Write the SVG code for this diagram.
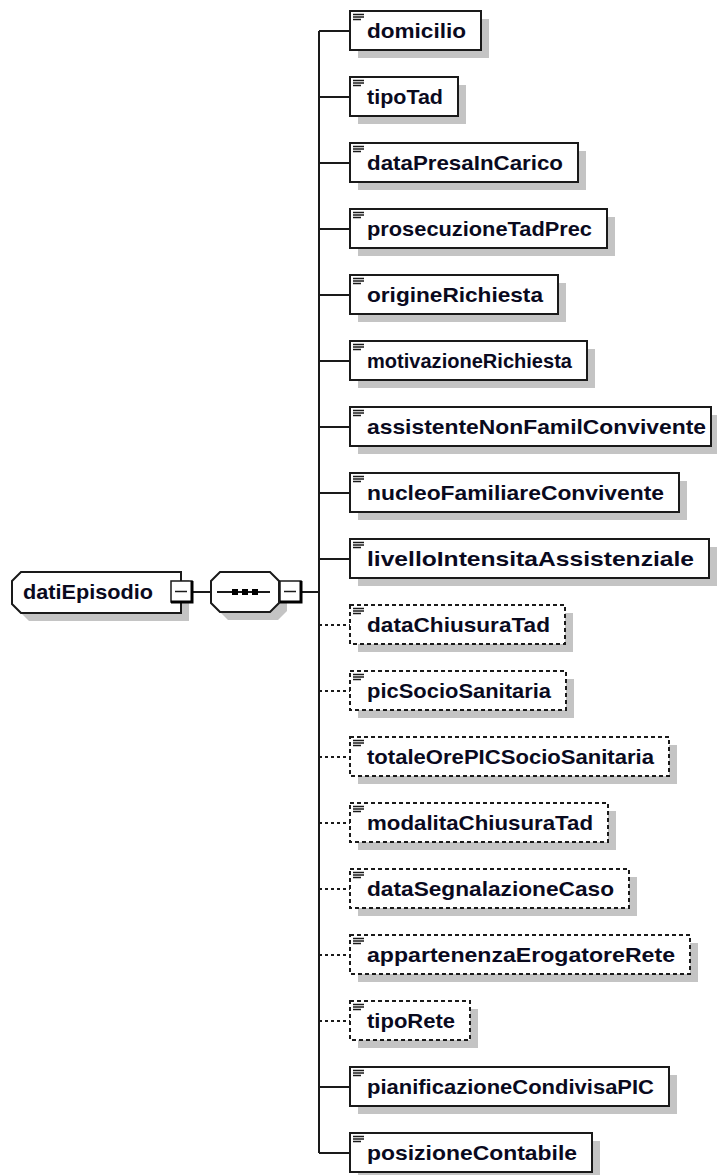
<svg xmlns="http://www.w3.org/2000/svg" width="717" height="1175" viewBox="0 0 717 1175">
<style>
.bg{fill:#fff}
.sh{fill:#c4c4c4;stroke:none}
.box{fill:#fff;stroke:#1a1a1a;stroke-width:2}
.opt{stroke-dasharray:4,3}
.ln{stroke:#1a1a1a;stroke-width:2;fill:none}
.dl{stroke:#1a1a1a;stroke-width:2;fill:none;stroke-dasharray:3,3}
.ic{stroke:#1a1a1a;stroke-width:1.5}
.t{font-family:"Liberation Sans",Arial,sans-serif;font-weight:bold;font-size:20.5px;fill:#0a0a1e}
.mb{fill:#fff;stroke:#1a1a1a;stroke-width:1.5}
.mbd{stroke:#000;stroke-width:3;fill:none}
</style>
<defs>
<g id="icon"><line class="ic" x1="353" y1="-16.5" x2="364" y2="-16.5"/><line class="ic" x1="353" y1="-14" x2="364" y2="-14"/><line class="ic" x1="353" y1="-11.5" x2="361" y2="-11.5"/></g>
</defs>
<rect class="bg" x="0" y="0" width="717" height="1175"/>

<g id="connectors">
<line class="ln" x1="192" y1="592" x2="211" y2="592"/>
<line class="ln" x1="301" y1="592" x2="319" y2="592"/>
<line class="ln" x1="319" y1="31" x2="319" y2="1153"/>
<line class="ln" x1="319" y1="31" x2="350" y2="31"/>
<line class="ln" x1="319" y1="97" x2="350" y2="97"/>
<line class="ln" x1="319" y1="163" x2="350" y2="163"/>
<line class="ln" x1="319" y1="229" x2="350" y2="229"/>
<line class="ln" x1="319" y1="295" x2="350" y2="295"/>
<line class="ln" x1="319" y1="361" x2="350" y2="361"/>
<line class="ln" x1="319" y1="427" x2="350" y2="427"/>
<line class="ln" x1="319" y1="493" x2="350" y2="493"/>
<line class="ln" x1="319" y1="559" x2="350" y2="559"/>
<line class="dl" x1="319" y1="625" x2="350" y2="625"/>
<line class="dl" x1="319" y1="691" x2="350" y2="691"/>
<line class="dl" x1="319" y1="757" x2="350" y2="757"/>
<line class="dl" x1="319" y1="823" x2="350" y2="823"/>
<line class="dl" x1="319" y1="889" x2="350" y2="889"/>
<line class="dl" x1="319" y1="955" x2="350" y2="955"/>
<line class="dl" x1="319" y1="1021" x2="350" y2="1021"/>
<line class="ln" x1="319" y1="1087" x2="350" y2="1087"/>
<line class="ln" x1="319" y1="1153" x2="350" y2="1153"/>
</g>

<g id="datiEpisodio">
<path class="sh" d="M20,589 L29,580 L189,580 L189,621 L29,621 L20,612 Z"/>
<path class="box" d="M12,581 L21,572 L181,572 L181,613 L21,613 L12,604 Z"/>
<text class="t" x="23" y="599" textLength="130" lengthAdjust="spacingAndGlyphs">datiEpisodio</text>
<rect class="mb" x="171" y="581" width="21" height="21"/>
<path class="mbd" d="M192,581 L192,602 L171,602"/>
<line class="ic" x1="175" y1="591.5" x2="187" y2="591.5"/>
</g>

<g id="sequence">
<path class="sh" d="M219,589 L228,580 L278,580 L287,589 L287,611 L278,620 L228,620 L219,611 Z"/>
<path class="box" d="M211,581 L220,572 L270,572 L279,581 L279,603 L270,612 L220,612 L211,603 Z"/>
<line class="ln" x1="217" y1="592" x2="270" y2="592"/>
<rect x="232" y="589" width="6" height="6" fill="#000"/>
<rect x="242" y="589" width="6" height="6" fill="#000"/>
<rect x="252" y="589" width="6" height="6" fill="#000"/>
<rect class="mb" x="280" y="581" width="21" height="21"/>
<path class="mbd" d="M301,581 L301,602 L280,602"/>
<line class="ic" x1="284" y1="591.5" x2="296" y2="591.5"/>
</g>

<g id="domicilio" transform="translate(0,31)">
<rect class="sh" x="358" y="-12" width="131" height="39"/>
<rect class="box" x="350" y="-20" width="131" height="39"/>
<use href="#icon"/>
<text class="t" x="367" y="7" textLength="99" lengthAdjust="spacingAndGlyphs">domicilio</text>
</g>
<g id="tipoTad" transform="translate(0,97)">
<rect class="sh" x="358" y="-12" width="108" height="39"/>
<rect class="box" x="350" y="-20" width="108" height="39"/>
<use href="#icon"/>
<text class="t" x="367" y="7" textLength="76" lengthAdjust="spacingAndGlyphs">tipoTad</text>
</g>
<g id="dataPresaInCarico" transform="translate(0,163)">
<rect class="sh" x="358" y="-12" width="228" height="39"/>
<rect class="box" x="350" y="-20" width="228" height="39"/>
<use href="#icon"/>
<text class="t" x="367" y="7" textLength="196" lengthAdjust="spacingAndGlyphs">dataPresaInCarico</text>
</g>
<g id="prosecuzioneTadPrec" transform="translate(0,229)">
<rect class="sh" x="358" y="-12" width="257" height="39"/>
<rect class="box" x="350" y="-20" width="257" height="39"/>
<use href="#icon"/>
<text class="t" x="367" y="7" textLength="225" lengthAdjust="spacingAndGlyphs">prosecuzioneTadPrec</text>
</g>
<g id="origineRichiesta" transform="translate(0,295)">
<rect class="sh" x="358" y="-12" width="208" height="39"/>
<rect class="box" x="350" y="-20" width="208" height="39"/>
<use href="#icon"/>
<text class="t" x="367" y="7" textLength="176" lengthAdjust="spacingAndGlyphs">origineRichiesta</text>
</g>
<g id="motivazioneRichiesta" transform="translate(0,361)">
<rect class="sh" x="358" y="-12" width="237" height="39"/>
<rect class="box" x="350" y="-20" width="237" height="39"/>
<use href="#icon"/>
<text class="t" x="367" y="7" textLength="205" lengthAdjust="spacingAndGlyphs">motivazioneRichiesta</text>
</g>
<g id="assistenteNonFamilConvivente" transform="translate(0,427)">
<rect class="sh" x="358" y="-12" width="361" height="39"/>
<rect class="box" x="350" y="-20" width="361" height="39"/>
<use href="#icon"/>
<text class="t" x="367" y="7" textLength="339" lengthAdjust="spacingAndGlyphs">assistenteNonFamilConvivente</text>
</g>
<g id="nucleoFamiliareConvivente" transform="translate(0,493)">
<rect class="sh" x="358" y="-12" width="329" height="39"/>
<rect class="box" x="350" y="-20" width="329" height="39"/>
<use href="#icon"/>
<text class="t" x="367" y="7" textLength="297" lengthAdjust="spacingAndGlyphs">nucleoFamiliareConvivente</text>
</g>
<g id="livelloIntensitaAssistenziale" transform="translate(0,559)">
<rect class="sh" x="358" y="-12" width="359" height="39"/>
<rect class="box" x="350" y="-20" width="359" height="39"/>
<use href="#icon"/>
<text class="t" x="367" y="7" textLength="327" lengthAdjust="spacingAndGlyphs">livelloIntensitaAssistenziale</text>
</g>
<g id="dataChiusuraTad" transform="translate(0,625)">
<rect class="sh" x="358" y="-12" width="215" height="39"/>
<rect class="box opt" x="350" y="-20" width="215" height="39"/>
<use href="#icon"/>
<text class="t" x="367" y="7" textLength="183" lengthAdjust="spacingAndGlyphs">dataChiusuraTad</text>
</g>
<g id="picSocioSanitaria" transform="translate(0,691)">
<rect class="sh" x="358" y="-12" width="216" height="39"/>
<rect class="box opt" x="350" y="-20" width="216" height="39"/>
<use href="#icon"/>
<text class="t" x="367" y="7" textLength="184" lengthAdjust="spacingAndGlyphs">picSocioSanitaria</text>
</g>
<g id="totaleOrePICSocioSanitaria" transform="translate(0,757)">
<rect class="sh" x="358" y="-12" width="319" height="39"/>
<rect class="box opt" x="350" y="-20" width="319" height="39"/>
<use href="#icon"/>
<text class="t" x="367" y="7" textLength="287" lengthAdjust="spacingAndGlyphs">totaleOrePICSocioSanitaria</text>
</g>
<g id="modalitaChiusuraTad" transform="translate(0,823)">
<rect class="sh" x="358" y="-12" width="258" height="39"/>
<rect class="box opt" x="350" y="-20" width="258" height="39"/>
<use href="#icon"/>
<text class="t" x="367" y="7" textLength="226" lengthAdjust="spacingAndGlyphs">modalitaChiusuraTad</text>
</g>
<g id="dataSegnalazioneCaso" transform="translate(0,889)">
<rect class="sh" x="358" y="-12" width="279" height="39"/>
<rect class="box opt" x="350" y="-20" width="279" height="39"/>
<use href="#icon"/>
<text class="t" x="367" y="7" textLength="247" lengthAdjust="spacingAndGlyphs">dataSegnalazioneCaso</text>
</g>
<g id="appartenenzaErogatoreRete" transform="translate(0,955)">
<rect class="sh" x="358" y="-12" width="340" height="39"/>
<rect class="box opt" x="350" y="-20" width="340" height="39"/>
<use href="#icon"/>
<text class="t" x="367" y="7" textLength="308" lengthAdjust="spacingAndGlyphs">appartenenzaErogatoreRete</text>
</g>
<g id="tipoRete" transform="translate(0,1021)">
<rect class="sh" x="358" y="-12" width="120" height="39"/>
<rect class="box opt" x="350" y="-20" width="120" height="39"/>
<use href="#icon"/>
<text class="t" x="367" y="7" textLength="88" lengthAdjust="spacingAndGlyphs">tipoRete</text>
</g>
<g id="pianificazioneCondivisaPIC" transform="translate(0,1087)">
<rect class="sh" x="358" y="-12" width="319" height="39"/>
<rect class="box" x="350" y="-20" width="319" height="39"/>
<use href="#icon"/>
<text class="t" x="367" y="7" textLength="287" lengthAdjust="spacingAndGlyphs">pianificazioneCondivisaPIC</text>
</g>
<g id="posizioneContabile" transform="translate(0,1153)">
<rect class="sh" x="358" y="-12" width="242" height="39"/>
<rect class="box" x="350" y="-20" width="242" height="39"/>
<use href="#icon"/>
<text class="t" x="367" y="7" textLength="210" lengthAdjust="spacingAndGlyphs">posizioneContabile</text>
</g>
</svg>
